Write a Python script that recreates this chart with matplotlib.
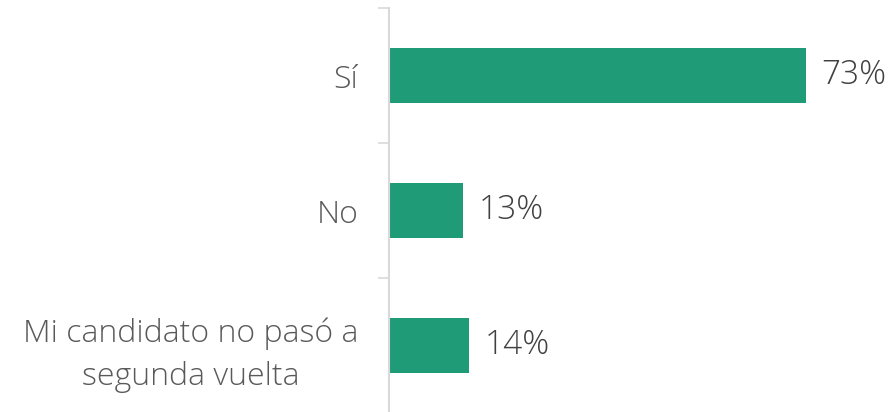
import matplotlib.pyplot as plt
import numpy as np

# Survey answers and their share (%)
categories = ["Sí", "No", "Mi candidato no pasó a\nsegunda vuelta"]
values = [73, 13, 14]

bar_color = "#1f9b77"
label_color = "#595959"
value_color = "#404040"
axis_color = "#d9d9d9"

plt.rcParams['font.family'] = ['Open Sans', 'DejaVu Sans']

fig = plt.figure(figsize=(8.95, 4.12), dpi=100)
ax = fig.add_axes([389 / 895, -1 / 412, 506 / 895, 1 - 7 / 412])

y = np.arange(len(categories))
bars = ax.barh(y, values, height=0.41, color=bar_color)

ax.set_xlim(0, 88.6)
ax.set_ylim(2.5, -0.5)

# category names, right aligned, with boundary tick marks between groups
ax.set_yticks(y)
ax.set_yticklabels(categories, fontsize=23, color=label_color,
                   fontweight='light', linespacing=1.45,
                   multialignment='center')
ax.tick_params(axis='y', which='major', length=0, pad=22)
ax.set_yticks([-0.5, 0.5, 1.5, 2.5], minor=True)
ax.tick_params(axis='y', which='minor', length=8, width=1.2, color=axis_color)

ax.set_xticks([])
for side in ["top", "right", "bottom"]:
    ax.spines[side].set_visible(False)
ax.spines["left"].set_color(axis_color)
ax.spines["left"].set_linewidth(1.5)

for rect, v in zip(bars, values):
    ax.text(rect.get_width() + 2.7, rect.get_y() + rect.get_height() / 2,
            f"{v}%", va='center', ha='left', fontsize=24,
            color=value_color, fontweight='light')

fig.savefig("out.png", dpi=100)
